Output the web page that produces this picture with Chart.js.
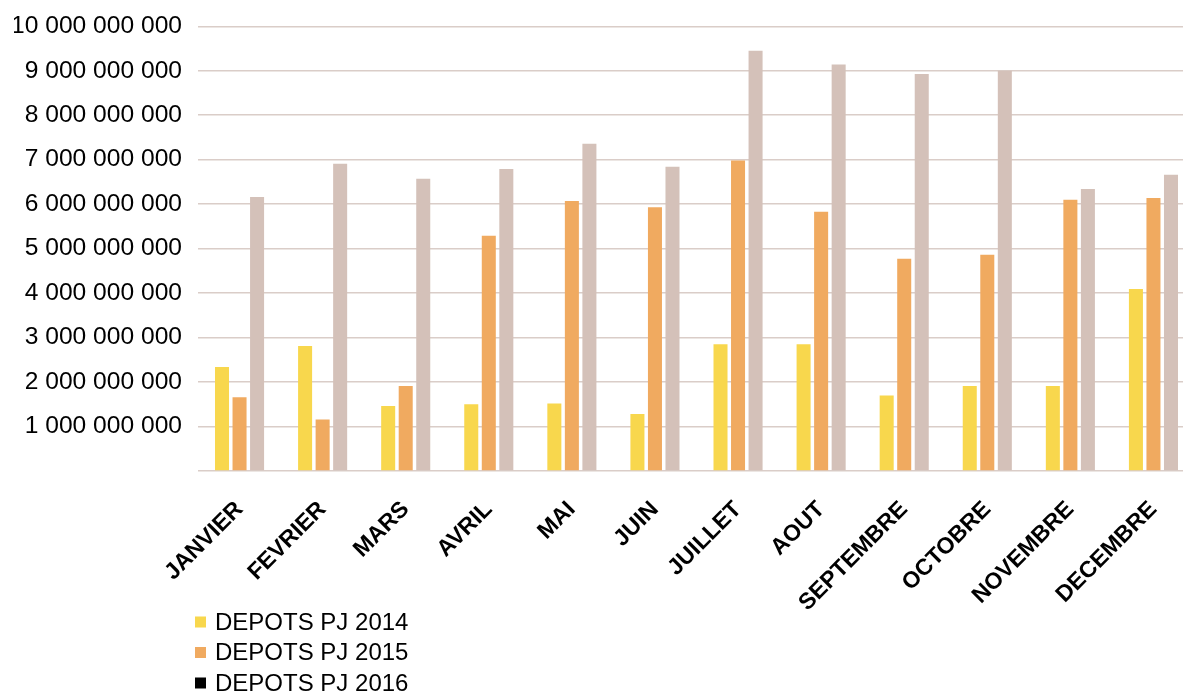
<!DOCTYPE html>
<html lang="fr">
<head>
<meta charset="utf-8">
<title>Dépôts PJ par mois</title>
<script src="https://cdn.jsdelivr.net/npm/chart.js@4.4.1/dist/chart.umd.min.js"></script>
<style>
  html, body { margin: 0; padding: 0; background: #ffffff; overflow: hidden; }
  #wrap { position: relative; width: 1183px; height: 695px; overflow: hidden; }
  #box { position: absolute; left: 0; top: 0; width: 1196px; height: 695px; }
</style>
</head>
<body>
<div id="wrap"><div id="box"><canvas id="chart"></canvas></div></div>
<script>
// Months
const categories = ['JANVIER', 'FEVRIER', 'MARS', 'AVRIL', 'MAI', 'JUIN', 'JUILLET', 'AOUT', 'SEPTEMBRE', 'OCTOBRE', 'NOVEMBRE', 'DECEMBRE'];

// Series names
const seriesNames = ['DEPOTS PJ 2014', 'DEPOTS PJ 2015', 'DEPOTS PJ 2016'];

// Monthly deposits per year
const depots2014 = [2340000000, 2810000000, 1460000000, 1500000000, 1520000000, 1280000000, 2850000000, 2850000000, 1700000000, 1910000000, 1910000000, 4090000000];
const depots2015 = [1660000000, 1160000000, 1910000000, 5290000000, 6070000000, 5930000000, 6980000000, 5830000000, 4770000000, 4860000000, 6100000000, 6140000000];
const depots2016 = [6160000000, 6910000000, 6570000000, 6790000000, 7360000000, 6840000000, 9450000000, 9140000000, 8930000000, 9000000000, 6340000000, 6660000000];

// Axis range
const yMin = 0;
const yMax = 10000000000;
const yStep = 1000000000;

const barColors = ['#F8D74D', '#F0AA60', '#D4C1B9'];
const legendColors = ['#F8D74D', '#F0AA60', '#000000'];
const FONT = '"Liberation Sans", Arial, Helvetica, sans-serif';

function spaced(v) {
  return String(Math.round(v)).replace(/\B(?=(\d{3})+(?!\d))/g, ' ');
}

// Vertical legend drawn under the month labels
const stackedLegend = {
  id: 'stackedLegend',
  afterDraw(chart) {
    const ctx = chart.ctx;
    const x = chart.chartArea.left - 3;
    const y0 = chart.height - 73;
    const rowGap = 30.5;
    ctx.save();
    ctx.font = '24px ' + FONT;
    ctx.textBaseline = 'middle';
    ctx.textAlign = 'left';
    chart.data.datasets.forEach((ds, i) => {
      const y = y0 + i * rowGap;
      ctx.fillStyle = legendColors[i];
      ctx.fillRect(x, y - 5.5, 11, 11);
      ctx.fillStyle = '#000000';
      ctx.fillText(ds.label, x + 20, y + 1);
    });
    ctx.restore();
  }
};

const seriesValues = [depots2014, depots2015, depots2016];

new Chart(document.getElementById('chart'), {
  type: 'bar',
  data: {
    labels: categories,
    datasets: seriesValues.map((vals, i) => ({
      label: seriesNames[i],
      data: vals,
      backgroundColor: barColors[i],
      borderWidth: 0,
      categoryPercentage: 0.633,
      barPercentage: 0.8
    }))
  },
  options: {
    responsive: true,
    maintainAspectRatio: false,
    animation: false,
    layout: { padding: { left: 14, right: 1, top: 26.3, bottom: 61.3 } },
    plugins: {
      legend: { display: false },
      tooltip: { enabled: false }
    },
    scales: {
      x: {
        grid: { display: false },
        border: { display: false },
        ticks: {
          autoSkip: false,
          minRotation: 45,
          maxRotation: 45,
          color: '#000000',
          padding: 17,
          font: { family: FONT, size: 23, weight: 'bold' }
        }
      },
      y: {
        min: yMin,
        max: yMax,
        border: { display: false },
        grid: { color: '#DACDC8', lineWidth: 1.5, drawTicks: false },
        afterFit(scale) {
          scale.width = 184;
          scale.paddingTop = 0;
          scale.paddingBottom = 0;
        },
        ticks: {
          stepSize: yStep,
          color: '#000000',
          padding: 16,
          font: { family: FONT, size: 24.6 },
          callback: (v) => (v === 0 ? '' : spaced(v))
        }
      }
    }
  },
  plugins: [stackedLegend]
});
</script>
</body>
</html>
